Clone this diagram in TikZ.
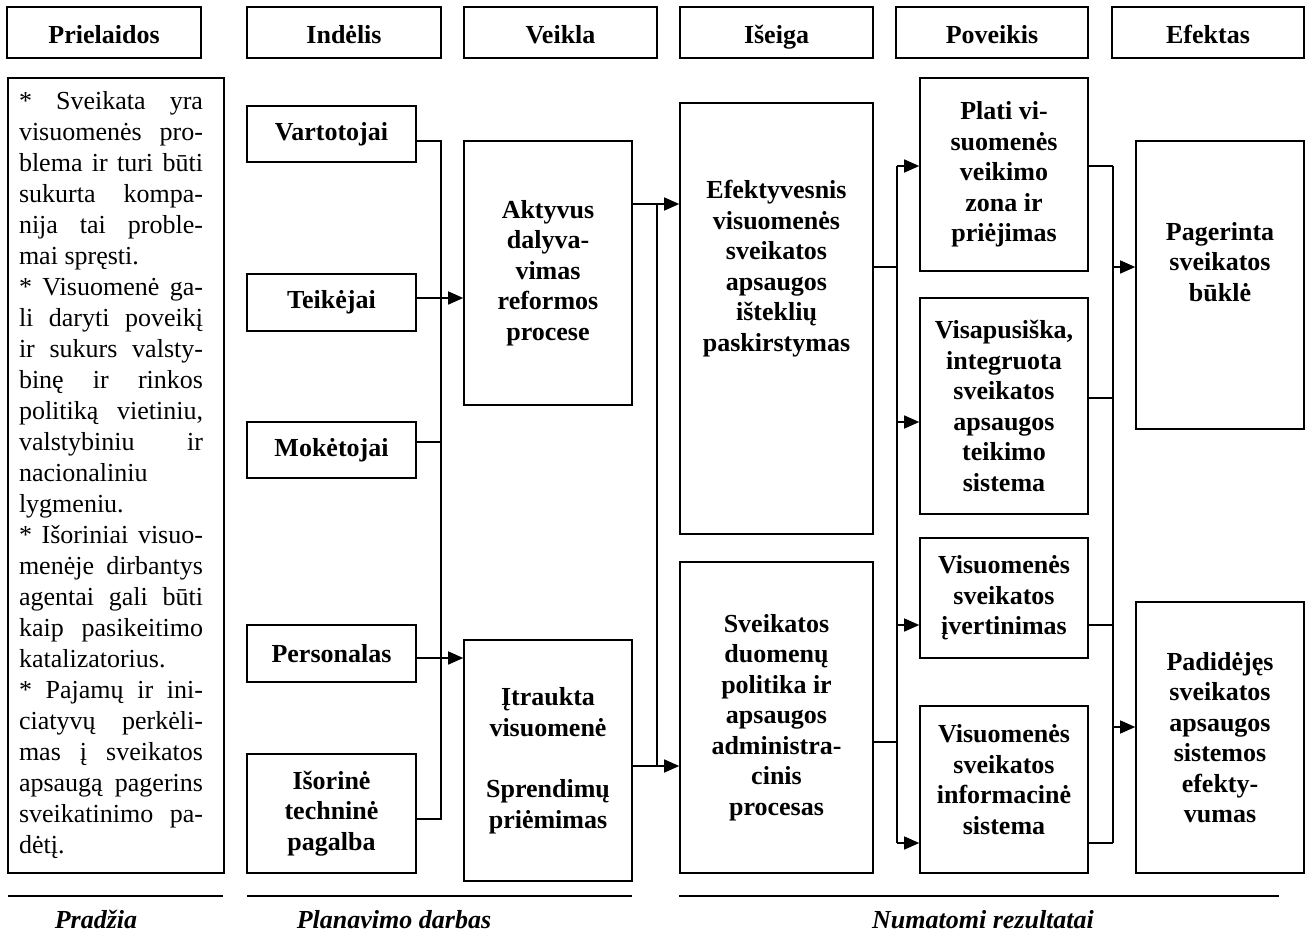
\documentclass[tikz,border=0pt]{standalone}
\usepackage{fontspec}
\setmainfont{Liberation Serif}
\usetikzlibrary{arrows.meta}

\tikzset{
  box/.style={draw, line width=1.6pt, inner sep=0pt, align=center,
    font=\bfseries\fontsize{26}{30.5}\selectfont},
  head/.style={box, minimum height=51, text height=23pt, text depth=0pt},
  lbl/.style={align=center, inner sep=0pt, font=\bfseries\fontsize{26}{30.5}\selectfont},
  note/.style={draw, line width=1.6pt, inner sep=0pt, text width=194, align=justify,
    font=\fontsize{26}{31}\selectfont},
  line/.style={line width=1.4pt},
  arr/.style={line, -{Triangle[length=15pt,width=13pt]}},
  foot/.style={inner sep=0pt, anchor=base, text depth=0pt,
    font=\bfseries\itshape\fontsize{26}{30}\selectfont},
}

\begin{document}
\begin{tikzpicture}[x=1pt,y=-1pt]
        \useasboundingbox (0,0) rectangle (1308,934);

        % Column headers
        \node[head, minimum width=194] (hpre) at (104,32.5) {Prielaidos};
        \node[head, minimum width=194] (hind) at (344,32.5) {Indėlis};
        \node[head, minimum width=193] (hvei) at (560.5,32.5) {Veikla};
        \node[head, minimum width=193] (hise) at (776.5,32.5) {Išeiga};
        \node[head, minimum width=192] (hpov) at (992,32.5) {Poveikis};
        \node[head, minimum width=192] (hefe) at (1208,32.5) {Efektas};

        % Assumptions
        \node[note, minimum width=216, minimum height=795] (pre) at (116,475.5) {%
\tolerance=10000\hyphenpenalty=10000\rightskip=10pt
* Sveikata yra\linebreak visuomenės pro-\linebreak blema ir turi būti\linebreak
sukurta kompa-\linebreak nija tai proble-\linebreak mai spręsti.\par
* Visuomenė ga-\linebreak li daryti poveikį\linebreak ir sukurs valsty-\linebreak
binę ir rinkos\linebreak politiką vietiniu,\linebreak valstybiniu ir\linebreak
nacionaliniu\linebreak lygmeniu.\par
* Išoriniai visuo-\linebreak menėje dirbantys\linebreak agentai gali būti\linebreak
kaip pasikeitimo\linebreak katalizatorius.\par
* Pajamų ir ini-\linebreak ciatyvų perkėli-\linebreak mas į sveikatos\linebreak
apsaugą pagerins\linebreak sveikatinimo pa-\linebreak dėtį.\par};

        % Inputs
        \node[box, minimum width=169, minimum height=56] (var) at (331.5,134) {Vartotojai};
        \node[box, minimum width=169, minimum height=57] (tei) at (331.5,302.5) {Teikėjai};
        \node[box, minimum width=169, minimum height=56] (mok) at (331.5,450) {Mokėtojai};
        \node[box, minimum width=169, minimum height=57] (per) at (331.5,653.5) {Personalas};
        \node[box, minimum width=169, minimum height=119] (iso) at (331.5,813.5) {Išorinė\\techninė\\pagalba};

        % Activities
        \node[box, minimum width=168, minimum height=264] (akt) at (548,273) {Aktyvus\\dalyva-\\vimas\\reformos\\procese};
        \node[box, minimum width=168, minimum height=241] (itr) at (548,760.5) {Įtraukta\\visuomenė\\[31pt]Sprendimų\\priėmimas};

        % Outputs
        \node[box, minimum width=193, minimum height=431,
              label={[lbl, yshift=50]center:{Efektyvesnis\\visuomenės\\sveikatos\\apsaugos\\išteklių\\paskirstymas}}]
              (eff) at (776.5,318.5) {};
        \node[box, minimum width=193, minimum height=311] (sve) at (776.5,717.5) {Sveikatos\\duomenų\\politika ir\\apsaugos\\administra-\\cinis\\procesas};

        % Impacts
        \node[box, minimum width=168, minimum height=193] (pla) at (1004,174.5) {Plati vi-\\suomenės\\veikimo\\zona ir\\priėjimas};
        \node[box, minimum width=168, minimum height=216] (vis) at (1004,406) {Visapusiška,\\integruota\\sveikatos\\apsaugos\\teikimo\\sistema};
        \node[box, minimum width=168, minimum height=120] (ive) at (1004,598) {Visuomenės\\sveikatos\\įvertinimas};
        \node[box, minimum width=168, minimum height=167,
              label={[lbl, yshift=10]center:{Visuomenės\\sveikatos\\informacinė\\sistema}}]
              (inf) at (1004,789.5) {};

        % Effects
        \node[box, minimum width=168, minimum height=288,
              label={[lbl, yshift=23]center:{Pagerinta\\sveikatos\\būklė}}]
              (pag) at (1220,285) {};
        \node[box, minimum width=168, minimum height=271] (pad) at (1220,737.5) {Padidėjęs\\sveikatos\\apsaugos\\sistemos\\efekty-\\vumas};

        % Bus lines
        \coordinate (b1t) at (441,141);
        \coordinate (b1b) at (441,819);
        \coordinate (b2t) at (657,204);
        \coordinate (b2b) at (657,766);
        \coordinate (b3t) at (897,166);
        \coordinate (b3b) at (897,843);
        \coordinate (b4t) at (1113,166);
        \coordinate (b4b) at (1113,843);

        % Inputs to activities
        \draw[line] (var.east |- b1t) -- (b1t) -- (b1b) -- (iso.east |- b1b);
        \draw[line] (mok.east |- 0,442) -- (b1t |- 0,442);
        \draw[arr] (tei.east |- 0,298) -- (akt.west |- 0,298);
        \draw[arr] (per.east |- 0,658) -- (itr.west |- 0,658);

        % Activities to outputs
        \draw[line] (b2t) -- (b2b);
        \draw[arr] (akt.east |- b2t) -- (eff.west |- b2t);
        \draw[arr] (itr.east |- b2b) -- (sve.west |- b2b);

        % Outputs to impacts
        \draw[line] (eff.east |- 0,267) -- (b3t |- 0,267);
        \draw[line] (sve.east |- 0,742) -- (b3t |- 0,742);
        \draw[line] (b3t) -- (b3b);
        \foreach \n/\y in {pla/166, vis/422, ive/625, inf/843}
            \draw[arr] (b3t |- 0,\y) -- (\n.west |- 0,\y);

        % Impacts to effects
        \foreach \n/\y in {pla/166, vis/398, ive/625, inf/843}
            \draw[line] (\n.east |- 0,\y) -- (b4t |- 0,\y);
        \draw[line] (b4t) -- (b4b);
        \draw[arr] (b4t |- 0,267) -- (pag.west |- 0,267);
        \draw[arr] (b4t |- 0,727) -- (pad.west |- 0,727);

        % Stages
        \draw[line] (8,896) -- (223,896);
        \draw[line] (247,896) -- (632,896);
        \draw[line] (679,896) -- (1279,896);
        \node[foot] (st1) at (96,928) {Pradžia};
        \node[foot] (st2) at (394,928) {Planavimo darbas};
        \node[foot] (st3) at (983,928) {Numatomi rezultatai};

\end{tikzpicture}
\end{document}
